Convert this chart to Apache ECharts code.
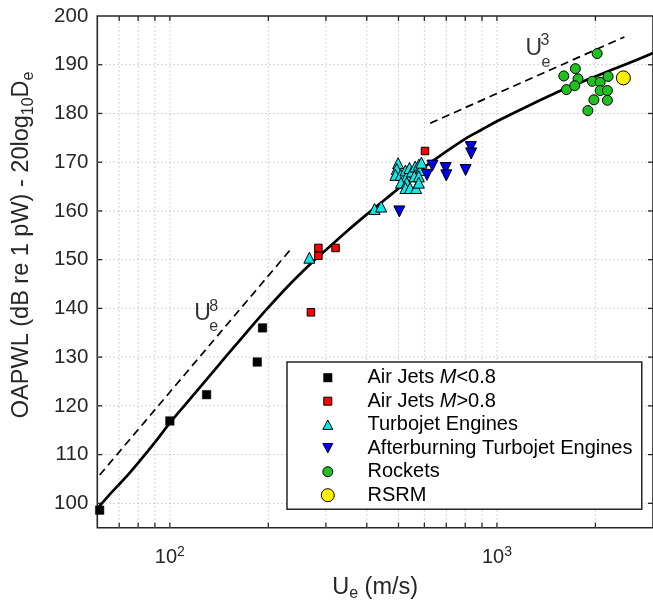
<!DOCTYPE html>
<html><head><meta charset="utf-8">
<script src="https://cdn.jsdelivr.net/npm/echarts@6/dist/echarts.min.js"></script>
<style>html,body{margin:0;padding:0;background:#fff}#c{width:653px;height:608px}</style>
</head><body><div id="c"></div>
<script>
// ---- data ----
const airJetsSub = [[61,98.6],[100,116.9],[129.5,122.3],[185,129.0],[192,136.0]];
const airJetsSup = [[270,139.2],[284.5,152.4],[284.5,150.8],[321,152.4],[602.6,172.3]];
const turbojet = [[267,150.4],[422.5,160.4],[442.6,160.9],[498.7,169.8],[494,168.6],[489.5,167.4],[508,167.4],[525,168.3],[530,167.1],[540,168.8],[550,168.1],[562.5,169.1],[577,169.5],[583.5,168.4],[558.7,167.1],[577,167.1],[509,165.8],[530,165.8],[525,164.7],[542.5,164.7],[566,164.7],[577,165.8],[587.7,169.9]];
const afterburning = [[503,159.9],[611,167.4],[635,169.3],[697,168.8],[700,167.3],[802,168.4],[832,173.1],[834,171.8]];
const rockets = [[2025,192.3],[1601,187.7],[1737,189.2],[1770,187.1],[1631,184.9],[1729,185.7],[1956,186.6],[2068,186.4],[2187,187.6],[2068,184.7],[2176,184.7],[1979,182.8],[2176,182.7],[1897,180.6]];
const rsrm = [[2435,187.3]];
const fitCurve = [[60.7,99.3],[65,101.6],[70,103.9],[75,106.1],[80,108.3],[90,112.5],[100,116.5],[110,119.8],[125,124.2],[150,130.5],[180,136.7],[200,140.2],[230,144.6],[270,149.2],[300,152.0],[350,156.0],[400,159.3],[450,162.1],[500,164.6],[600,169.0],[700,172.2],[800,174.8],[900,176.7],[1000,178.4],[1250,181.6],[1500,184.1],[1750,186.0],[2000,187.6],[2500,190.2],[3000,192.4]];
const u8Line = [[61,105.8],[236,152.4]];
const u3Line = [[625,178.0],[2453,195.7]];
const u8Label = [118.8,139.0];
const u3Label = [1222,193.4];
const xGridValues = [70,80,90,100,200,300,400,500,600,700,800,900,1000,2000];
const yGridValues = [100,110,120,130,140,150,160,170,180,190];
const xMin = 60, xMax = 3000, yMin = 95, yMax = 200;

const FONT = '"Liberation Sans", Arial, Helvetica, sans-serif';
const AX = '#262626';

function vGrid(params, api){
  const v = api.value(0);
  const b = api.coord([v, yMin]), t = api.coord([v, yMax]);
  return {type:'group', children:[
    {type:'line', shape:{x1:b[0],y1:b[1],x2:t[0],y2:t[1]}, style:{stroke:'#c4c4c4', lineWidth:1, lineDash:[1.5,2.5]}},
    {type:'line', shape:{x1:b[0],y1:b[1],x2:b[0],y2:b[1]-5}, style:{stroke:AX, lineWidth:1.3}},
    {type:'line', shape:{x1:t[0],y1:t[1],x2:t[0],y2:t[1]+5}, style:{stroke:AX, lineWidth:1.3}}
  ]};
}
function hGrid(params, api){
  const v = api.value(1);
  const l = api.coord([xMin, v]), r = api.coord([xMax, v]);
  return {type:'group', children:[
    {type:'line', shape:{x1:l[0],y1:l[1],x2:r[0],y2:r[1]}, style:{stroke:'#c4c4c4', lineWidth:1, lineDash:[1.5,2.5]}},
    {type:'line', shape:{x1:l[0],y1:l[1],x2:l[0]+5,y2:l[1]}, style:{stroke:AX, lineWidth:1.3}},
    {type:'line', shape:{x1:r[0],y1:r[1],x2:r[0]-5,y2:r[1]}, style:{stroke:AX, lineWidth:1.3}}
  ]};
}

const sq = 'path://M0,0M14,14M2.5,2.5L11.5,2.5L11.5,11.5L2.5,11.5Z';
const sqS = 'path://M0,0M14,14M3,3L11,3L11,11L3,11Z';
const triU = 'path://M0,0M14,14M7,2.3L12,11.7L2,11.7Z';
const triD = 'path://M0,0M14,14M2,2.3L12,2.3L7,11.7Z';
const circS = 'path://M0,0M14,14M2,7A5,5,0,1,1,12,7A5,5,0,1,1,2,7Z';
const circL = 'path://M0,0M14,14M0.5,7A6.5,6.5,0,1,1,13.5,7A6.5,6.5,0,1,1,0.5,7Z';

const names = ['Air Jets M<0.8','Air Jets M>0.8','Turbojet Engines','Afterburning Turbojet Engines','Rockets','RSRM'];
const colors = ['#000000','#ff0000','#14e6e6','#0000ee','#1fc01f','#ffef00'];

const annoLabel = (txt, size, dx, dy) => ({show:true, formatter:txt, position:[0,0], align:'left', verticalAlign:'middle', offset:[dx,dy], fontFamily:FONT, fontSize:size, color:'#000'});

const option = {
  animation:false,
  backgroundColor:'#fff',
  grid:{left:97.3, right:-2.6, top:16, bottom:80.3, show:true, borderColor:AX, borderWidth:1.6, backgroundColor:'transparent'},
  xAxis:{type:'log', logBase:10, min:xMin, max:xMax,
    axisLine:{show:false}, axisTick:{show:false}, splitLine:{show:false}, minorTick:{show:false},
    axisLabel:{margin:17, color:AX, fontFamily:FONT, fontSize:20, showMinLabel:false, showMaxLabel:false,
      formatter:v => { const e = Math.round(Math.log10(v)); return Math.abs(Math.log10(v)-e)<1e-6 ? '{b|10}{s|'+e+'}' : ''; },
      rich:{b:{fontFamily:FONT,fontSize:20,color:AX}, s:{fontFamily:FONT,fontSize:14,color:AX,padding:[0,0,12,0]}}},
    name:'{n|U}{sub|e}{n| (m/s)}', nameLocation:'middle', nameGap:45,
    nameTextStyle:{rich:{n:{fontFamily:FONT,fontSize:23.5,color:AX}, sub:{fontFamily:FONT,fontSize:16,color:AX,padding:[13,0,0,0]}}}
  },
  yAxis:{type:'value', min:yMin, max:yMax, interval:5,
    axisLine:{show:false}, axisTick:{show:false}, splitLine:{show:false},
    axisLabel:{margin:9, color:AX, fontFamily:FONT, fontSize:20.5, formatter:v => (v%10===0 ? String(v) : '')},
    name:'{n|OAPWL (dB re 1 pW) - 20log}{sub|10}{n|D}{sub|e}', nameLocation:'middle', nameRotate:90, nameGap:61,
    nameTextStyle:{padding:[0,0,0,54], rich:{n:{fontFamily:FONT,fontSize:23.5,color:AX}, sub:{fontFamily:FONT,fontSize:16,color:AX,padding:[13,0,0,0]}}}
  },
  legend:{orient:'vertical', left:287, top:362, padding:[5.7,9.3,4,33.3], itemGap:3.5, itemWidth:69.4, itemHeight:14,
    borderColor:AX, borderWidth:1.5, backgroundColor:'#fff', borderRadius:0,
    formatter: n => n.replace(' M', ' {i|M}'),
    textStyle:{fontFamily:FONT, fontSize:20, color:'#000', lineHeight:20,
      rich:{i:{fontFamily:FONT, fontSize:20, fontStyle:'italic', color:'#000', lineHeight:20}}},
    data:[
      {name:names[0], icon:sq, itemStyle:{color:colors[0], borderColor:'#000', borderWidth:0}},
      {name:names[1], icon:sqS, itemStyle:{color:colors[1], borderColor:'#000', borderWidth:1}},
      {name:names[2], icon:triU, itemStyle:{color:colors[2], borderColor:'#000', borderWidth:1}},
      {name:names[3], icon:triD, itemStyle:{color:colors[3], borderColor:'#000', borderWidth:1}},
      {name:names[4], icon:circS, itemStyle:{color:colors[4], borderColor:'#000', borderWidth:1}},
      {name:names[5], icon:circL, itemStyle:{color:colors[5], borderColor:'#000', borderWidth:1}}
    ]
  },
  series:[
    {type:'custom', name:'xgrid', silent:true, z:1, renderItem:vGrid, data:xGridValues.map(v=>[v,yMin]), clip:false},
    {type:'custom', name:'ygrid', silent:true, z:1, renderItem:hGrid, data:yGridValues.map(v=>[xMin,v]), clip:false},
    {type:'line', name:'fit', data:fitCurve, smooth:0.3, showSymbol:false, symbol:'none', z:3, lineStyle:{color:'#000', width:2.7}},
    {type:'line', name:'U8', data:u8Line, showSymbol:false, symbol:'none', z:3, lineStyle:{color:'#000', width:1.7, type:[8,5]}},
    {type:'line', name:'U3', data:u3Line, showSymbol:false, symbol:'none', z:3, lineStyle:{color:'#000', width:1.7, type:[8,5]}},
    {type:'scatter', name:names[0], data:airJetsSub, symbol:'rect', symbolSize:8.5, z:5, itemStyle:{color:colors[0], borderColor:'#000', borderWidth:0.5, opacity:1}},
    {type:'scatter', name:names[1], data:airJetsSup, symbol:'rect', symbolSize:7.5, z:5, itemStyle:{color:colors[1], borderColor:'#000', borderWidth:1, opacity:1}},
    {type:'scatter', name:names[2], data:turbojet, symbol:'triangle', symbolSize:11, z:5, itemStyle:{color:colors[2], borderColor:'#000', borderWidth:1, opacity:1}},
    {type:'scatter', name:names[3], data:afterburning, symbol:'triangle', symbolRotate:180, symbolSize:11, z:5, itemStyle:{color:colors[3], borderColor:'#000', borderWidth:1, opacity:1}},
    {type:'scatter', name:names[4], data:rockets, symbol:'circle', symbolSize:10, z:5, itemStyle:{color:colors[4], borderColor:'#000', borderWidth:1, opacity:1}},
    {type:'scatter', name:names[5], data:rsrm, symbol:'circle', symbolSize:14, z:5, itemStyle:{color:colors[5], borderColor:'#000', borderWidth:1, opacity:1}},
    {type:'scatter', name:'annotations', silent:true, symbolSize:0, z:6, data:[
      {value:u8Label, label:annoLabel('U',23,0,0)},
      {value:u8Label, label:annoLabel('8',16,15,-7)},
      {value:u8Label, label:annoLabel('e',16,15,13.5)},
      {value:u3Label, label:annoLabel('U',23,0,0)},
      {value:u3Label, label:annoLabel('3',16,15,-7.5)},
      {value:u3Label, label:annoLabel('e',16,16,14.5)}
    ]}
  ]
};
const chart = echarts.init(document.getElementById('c'), null, {renderer:'canvas'});
chart.setOption(option);
</script></body></html>
